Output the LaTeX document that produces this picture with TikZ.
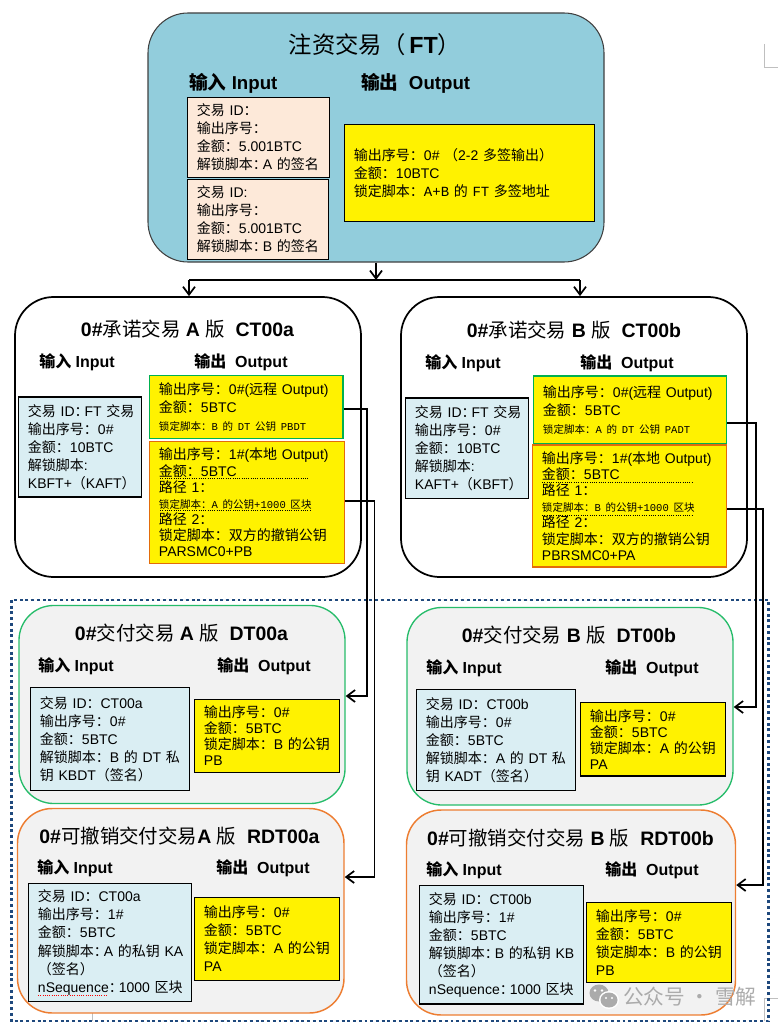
\documentclass[tikz,border=0pt]{standalone}
\usepackage{fontspec}
\usetikzlibrary{arrows.meta}
\setmainfont{Liberation Sans}
\newfontfamily\cjk{Noto Sans CJK SC}
\newfontfamily\mono{Liberation Mono}
\definecolor{ftblue}{HTML}{92CDDC}
\definecolor{peach}{HTML}{FDE9D9}
\definecolor{paleblue}{HTML}{DAEEF3}
\definecolor{panel}{HTML}{F2F2F2}
\definecolor{grn}{HTML}{00B050}
\definecolor{org}{HTML}{E36C0A}
\definecolor{softorg}{HTML}{ED7D31}
\definecolor{navy}{HTML}{1F497D}
\definecolor{mark}{HTML}{BFBFBF}
\definecolor{wm}{HTML}{ABABAB}
\lineskiplimit=-20pt
\newcommand\zh[1]{{\cjk #1}}
\newcommand\zm[1]{{\cjk\mdseries #1}}
\newcommand\ncol{\zh{：}\kern-3pt\relax}
\newcommand\smalltx[1]{{\fontsize{7.9}{\baselineskip}\selectfont\mono #1}}
% \bxn{name}{x1}{y1}{x2}{y2}{style}{leading pt}{text}
\newcommand\bxn[8]{%
  \pgfmathsetmacro\bxw{(#4-#2)*0.75}\pgfmathsetmacro\bxh{(#5-#3)*0.75}%
  \pgfmathsetmacro\bxcx{(#2+#4)/2}\pgfmathsetmacro\bxcy{(#3+#5)/2}%
  \node[#6,minimum width=\bxw pt,minimum height=\bxh pt,text width=\bxw pt,inner xsep=0pt,inner ysep=0pt,
    align=left,font=\fontsize{10.5}{#7}\selectfont] (#1) at (\bxcx,\bxcy) {\leftskip=7.1pt\relax #8\par};}
% \pn{name}{x1}{y1}{x2}{y2}{style}
\newcommand\pn[6]{%
  \pgfmathsetmacro\bxw{(#4-#2)*0.75}\pgfmathsetmacro\bxh{(#5-#3)*0.75}%
  \pgfmathsetmacro\bxcx{(#2+#4)/2}\pgfmathsetmacro\bxcy{(#3+#5)/2}%
  \node[#6,minimum width=\bxw pt,minimum height=\bxh pt,inner sep=0pt] (#1) at (\bxcx,\bxcy) {};}
\tikzset{
  inbox/.style={draw=black,line width=0.8pt,fill=paleblue},
  peachbox/.style={draw=black,line width=0.8pt,fill=peach},
  outbox/.style={draw=black,line width=0.8pt,fill=yellow},
  greenout/.style={draw=grn,line width=0.8pt,fill=yellow},
  orangeout/.style={draw=org,line width=0.8pt,fill=yellow},
  ftpanel/.style={draw=black!75,line width=0.8pt,fill=ftblue,rounded corners=30pt},
  ctpanel/.style={draw=black,line width=1.3pt,fill=white,rounded corners=29pt},
  dtpanel/.style={draw=grn!85!white,line width=1pt,fill=panel,rounded corners=26pt},
  rdtpanel/.style={draw=softorg,line width=1.1pt,fill=panel,rounded corners=26pt},
  ttl/.style={font=\fontsize{14.6}{16}\selectfont\bfseries,inner sep=0pt},
  lbl/.style={anchor=west,font=\fontsize{12}{14}\selectfont\bfseries,inner sep=0pt},
  conn/.style={draw=black,line width=1.4pt},
  arr/.style={conn,-{Straight Barb[length=6pt,width=9pt,line width=1.3pt]}},
  dots/.style={densely dotted,line width=0.7pt},
  cropm/.style={draw=mark,line width=0.7pt},
}
\begin{document}
\begin{tikzpicture}[x=0.75pt,y=-0.75pt]
\useasboundingbox (0,0) rectangle (778,1027);
% crop marks
\coordinate (m1) at (764,44); \coordinate (m2) at (764,67); \coordinate (m3) at (778,67);
\draw[cropm] (m1) -- (m2) -- (m3);
\coordinate (m4) at (778,998); \coordinate (m5) at (764,998); \coordinate (m6) at (764,1021);
\draw[cropm] (m4) -- (m5) -- (m6);
\coordinate (m7) at (92.5,1013); \coordinate (m8) at (92.5,1021);
\draw[cropm] (m7) -- (m8);
% dotted frame
\coordinate (f1) at (11.5,600); \coordinate (f2) at (768.5,1021);
\draw[navy,line width=2.2pt,dash pattern=on 2.2pt off 2.1pt] (f1) rectangle (f2);

% ---------- FT
\pn{ft}{148}{13}{604}{262}{ftpanel}
\node[inner sep=0pt,font=\fontsize{17.5}{20}\selectfont\bfseries] (fttitle) at (375,45) {\zm{注资交易（}\kern3pt FT\zm{）}};
\node[lbl,font=\fontsize{14}{16}\selectfont\bfseries] (ftin) at (189,83) {\zh{输入} Input};
\node[lbl,font=\fontsize{14}{16}\selectfont\bfseries] (ftout) at (361,83) {\zh{输出}\ \ Output};
\bxn{fti1}{187.5}{97.5}{329.5}{177.5}{peachbox}{13.5}{\zh{交易} ID\zh{：}\\\zh{输出序号：}\\\zh{金额：}5.001BTC\\\zh{解锁脚本}\ncol A \zh{的签名}}
\bxn{fti2}{187.5}{179.5}{328.5}{259.5}{peachbox}{13.5}{\zh{交易} ID:\\\zh{输出序号：}\\\zh{金额：}5.001BTC\\\zh{解锁脚本}\ncol B \zh{的签名}}
\bxn{fto}{344.5}{124.5}{594.5}{221.5}{outbox}{13.5}{\zh{输出序号：}0\# \zh{（}2-2 \zh{多签输出）}\\\zh{金额：}10BTC\\\zh{锁定脚本：}{\mono A+B }\zh{的} {\mono FT }\zh{多签地址}}

% ---------- CT a
\pn{cta}{15}{297}{361}{577}{ctpanel}
\node[ttl] (ctat) at (187.5,329) {0\#\zm{承诺交易} A \zm{版}\ \ CT00a};
\node[lbl] (ctai) at (39,362) {\zh{输入} Input};
\node[lbl] (ctao) at (194,362) {\zh{输出}\ \ Output};
\bxn{ctain}{18.5}{397}{141.5}{497}{inbox}{13.5}{\zh{交易} ID\ncol FT \zh{交易}\\\zh{输出序号：}0\#\\\zh{金额：}10BTC\\\zh{解锁脚本}:\\KBFT+\zh{（}KAFT\zh{）}}
\bxn{ctao0}{149.5}{375.5}{343}{438.5}{greenout}{13.5}{\zh{输出序号：}0\#(\zh{远程} Output)\\\zh{金额：}5BTC\\\smalltx{\zh{锁定脚本：}B \zh{的} DT \zh{公钥} PBDT}}
\bxn{ctao1}{149.5}{441.5}{344.5}{563.5}{orangeout}{12.1}{\zh{输出序号：}1\#(\zh{本地} Output)\\\zh{金额：}5BTC\\\zh{路径} 1\zh{：}\\\smalltx{\zh{锁定脚本：}A \zh{的公钥}+1000 \zh{区块}}\\\zh{路径} 2\zh{：}\\\zh{锁定脚本：双方的撤销公钥}\\PARSMC0+PB}
\coordinate (d1) at (160,478); \coordinate (d2) at (309,478); \draw[dots] (d1) -- (d2);
\coordinate (d3) at (160,510); \coordinate (d4) at (311,510); \draw[dots] (d3) -- (d4);

% ---------- CT b
\pn{ctb}{401}{297}{747}{577}{ctpanel}
\node[ttl] (ctbt) at (574,330) {0\#\zm{承诺交易} B \zm{版}\ \ CT00b};
\node[lbl] (ctbi) at (425,363) {\zh{输入} Input};
\node[lbl] (ctbo) at (580,363) {\zh{输出}\ \ Output};
\bxn{ctbin}{405.5}{398}{528.5}{498.5}{inbox}{13.5}{\zh{交易} ID\ncol FT \zh{交易}\\\zh{输出序号：}0\#\\\zh{金额：}10BTC\\\zh{解锁脚本}:\\KAFT+\zh{（}KBFT\zh{）}}
\bxn{ctbo0}{533.5}{376}{726.5}{443.5}{greenout}{13.5}{\zh{输出序号：}0\#(\zh{远程} Output)\\\zh{金额：}5BTC\\\smalltx{\zh{锁定脚本：}A \zh{的} DT \zh{公钥} PADT}}
\bxn{ctbo1}{532.5}{445}{726.5}{567}{orangeout}{12.1}{\zh{输出序号：}1\#(\zh{本地} Output)\\\zh{金额：}5BTC\\\zh{路径} 1\zh{：}\\\smalltx{\zh{锁定脚本：}B \zh{的公钥}+1000 \zh{区块}}\\\zh{路径} 2\zh{：}\\\zh{锁定脚本：双方的撤销公钥}\\PBRSMC0+PA}
\coordinate (d5) at (542,482); \coordinate (d6) at (693,482); \draw[dots] (d5) -- (d6);
\coordinate (d7) at (542,515.5); \coordinate (d8) at (693,515.5); \draw[dots] (d7) -- (d8);

% ---------- DT a
\pn{dta}{19}{605.5}{345}{803.5}{dtpanel}
\node[ttl] (dtat) at (181.5,633) {0\#\zm{交付交易} A \zm{版}\ \ DT00a};
\node[lbl] (dtai) at (38,666) {\zh{输入} Input};
\node[lbl] (dtao) at (217,666) {\zh{输出}\ \ Output};
\bxn{dtain}{30.5}{687.5}{189.5}{790.5}{inbox}{13.5}{\zh{交易} ID\zh{：}CT00a\\\zh{输出序号：}0\#\\\zh{金额：}5BTC\\\zh{解锁脚本：}B \zh{的} DT \zh{私}\\\zh{钥} KBDT\zh{（签名）}}
\bxn{dtaout}{194.5}{699.5}{339.5}{772.5}{outbox}{12}{\zh{输出序号：}0\#\\\zh{金额：}5BTC\\\zh{锁定脚本：}B \zh{的公钥}\\PB}

% ---------- RDT a
\pn{rdta}{17.5}{808.5}{344}{1013}{rdtpanel}
\node[ttl] (rdtat) at (179.5,836) {0\#\zm{可撤销交付交易}A \zm{版}\ \ RDT00a};
\node[lbl] (rdtai) at (37,868) {\zh{输入} Input};
\node[lbl] (rdtao) at (216,868) {\zh{输出}\ \ Output};
\bxn{rdtain}{28.5}{883.5}{191.5}{1001.5}{inbox}{13.6}{\zh{交易} ID\zh{：}CT00a\\\zh{输出序号：}1\#\\\zh{金额：}5BTC\\\zh{解锁脚本}\ncol A \zh{的私钥} KA\\\zh{（签名）}\\nSequence\ncol 1000 \zh{区块}}
\bxn{rdtaout}{194.5}{897.5}{339.5}{980.5}{outbox}{13.5}{\zh{输出序号：}0\#\\\zh{金额：}5BTC\\\zh{锁定脚本：}A \zh{的公钥}\\PA}
\coordinate (s1) at (38,995); \coordinate (s2) at (108,995); \draw[red,dots] (s1) -- (s2);

% ---------- DT b
\pn{dtb}{407}{607.5}{733}{805}{dtpanel}
\node[ttl] (dtbt) at (569,635) {0\#\zm{交付交易} B \zm{版}\ \ DT00b};
\node[lbl] (dtbi) at (426,668) {\zh{输入} Input};
\node[lbl] (dtbo) at (605,668) {\zh{输出}\ \ Output};
\bxn{dtbin}{416.5}{689.5}{575.5}{790.5}{inbox}{13.5}{\zh{交易} ID\zh{：}CT00b\\\zh{输出序号：}0\#\\\zh{金额：}5BTC\\\zh{解锁脚本：}A \zh{的} DT \zh{私}\\\zh{钥} KADT\zh{（签名）}}
\bxn{dtbout}{580.5}{702.5}{725.5}{776}{outbox}{12}{\zh{输出序号：}0\#\\\zh{金额：}5BTC\\\zh{锁定脚本：}A \zh{的公钥}\\PA}

% ---------- RDT b
\pn{rdtb}{406.5}{810}{735.5}{1015}{rdtpanel}
\node[ttl] (rdtbt) at (570.5,838) {0\#\zm{可撤销交付交易} B \zm{版}\ \ RDT00b};
\node[lbl] (rdtbi) at (426,870) {\zh{输入} Input};
\node[lbl] (rdtbo) at (605,870) {\zh{输出}\ \ Output};
\bxn{rdtbin}{419.5}{885.5}{583.5}{1004}{inbox}{13.5}{\zh{交易} ID\zh{：}CT00b\\\zh{输出序号：}1\#\\\zh{金额：}5BTC\\\zh{解锁脚本}\ncol B \zh{的私钥} KB\\\zh{（签名）}\\nSequence\ncol 1000 \zh{区块}}
\bxn{rdtbout}{586.5}{902.5}{731.5}{982.5}{outbox}{13.5}{\zh{输出序号：}0\#\\\zh{金额：}5BTC\\\zh{锁定脚本：}B \zh{的公钥}\\PB}

% ---------- connectors from FT
\coordinate (bL) at (189,280); \coordinate (bM) at (ft.south |- bL); \coordinate (bR) at (580,280);
\draw[conn] (bL) -- (bR);
\draw[arr] (ft.south) -- (bM);
\draw[arr] (bL) -- (bL |- cta.north);
\draw[arr] (bR) -- (bR |- ctb.north);

% ---------- connectors to delivery transactions
\coordinate (c1) at (367,409.3); \coordinate (c2) at (367,696);
\draw[arr] (ctao0.east |- c1) -- (c1) -- (c2) -- (dta.east |- c2);
\coordinate (c3) at (374.5,501); \coordinate (c4) at (374.5,877);
\draw[arr] (ctao1.east |- c3) -- (c3) -- (c4) -- (rdta.east |- c4);
\coordinate (c5) at (756,423); \coordinate (c6) at (756,707);
\draw[arr] (ctbo0.east |- c5) -- (c5) -- (c6) -- (dtb.east |- c6);
\coordinate (c7) at (763,509); \coordinate (c8) at (763,885);
\draw[arr] (ctbo1.east |- c7) -- (c7) -- (c8) -- (rdtb.east |- c8);

% ---------- watermark
\fill[wm] (599,993) ellipse [x radius=9.5,y radius=8.5];
\fill[white] (595,990.5) circle [radius=1.4] (602,990.5) circle [radius=1.4];
\fill[white] (609,1000) ellipse [x radius=10,y radius=9];
\fill[wm] (609,1000) ellipse [x radius=8.5,y radius=7.5];
\fill[white] (606,998) circle [radius=1.2] (612,998) circle [radius=1.2];
\node[anchor=west,inner sep=0pt,text=wm,font=\fontsize{15.5}{18}\selectfont] (wmtext) at (623,997) {\zh{公众号 · 雪解}};
\end{tikzpicture}
\end{document}
